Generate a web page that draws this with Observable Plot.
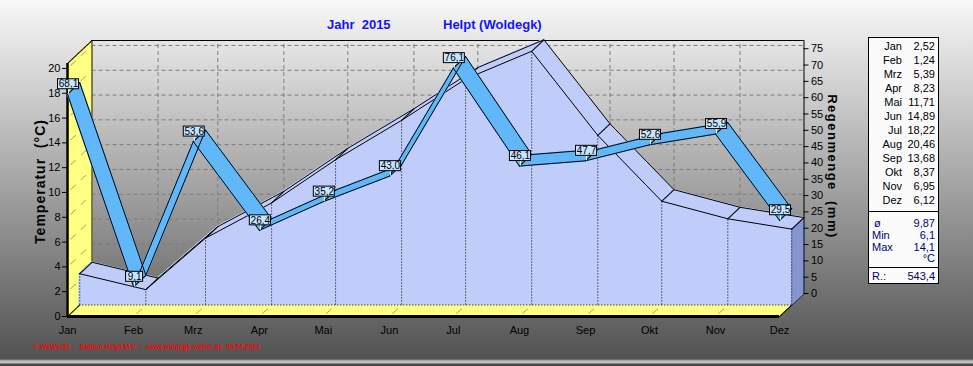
<!DOCTYPE html>
<html>
<head>
<meta charset="utf-8">
<script src="https://cdn.jsdelivr.net/npm/d3@7"></script>
<script src="https://cdn.jsdelivr.net/npm/@observablehq/plot@0.6"></script>
<style>
html,body{margin:0;padding:0;}
body{width:973px;height:366px;overflow:hidden;
  background:linear-gradient(to bottom,#f8f8f8 0px,#a6a6a6 180px,#525252 359px,#c0c0c0 361px,#c0c0c0 363px,#4a4a4a 364px);
  font-family:"Liberation Sans",Arial,sans-serif;}
#wrap{position:relative;width:973px;height:366px;}
#chart{position:absolute;left:0;top:0;}
.abs{position:absolute;white-space:pre;}
.title{font-weight:bold;font-size:13px;line-height:15px;color:#1414ff;top:17px;}
#legend{position:absolute;left:868px;top:37px;width:69px;height:245px;border:1px solid #000;background:#fbfbfb;font-size:11px;}
#legend .row{position:absolute;left:0;width:69px;height:11px;line-height:11px;}
#legend .sep{position:absolute;left:0;width:69px;height:0;border-top:1px solid #000;}
#caption{left:33px;top:343px;font-size:6.8px;line-height:8px;color:#ff0000;font-weight:bold;}
</style>
</head>
<body>
<div id="wrap">
  <div id="chart"></div>
  <div id="t1" class="abs title" style="left:327px"></div>
  <div id="t2" class="abs title" style="left:443px"></div>
  <div id="legend"></div>
  <div id="caption" class="abs"></div>
</div>
<script>
// ---------- data ----------
const months = ["Jan","Feb","Mrz","Apr","Mai","Jun","Jul","Aug","Sep","Okt","Nov","Dez"];
const temperature = [2.52,1.24,5.39,8.23,11.71,14.89,18.22,20.46,13.68,8.37,6.95,6.12];
const rain = [68.1,9.1,53.6,26.4,35.2,43.0,76.1,46.1,47.7,52.6,55.9,29.5];
const tempTicks = [0,2,4,6,8,10,12,14,16,18,20];
const rainTicks = [0,5,10,15,20,25,30,35,40,45,50,55,60,65,70,75];
const statLabels = ["ø","Min","Max",""];
const statValues = ["9,87","6,1","14,1","°C"];
const rainTotalLabel = "R.:";
const rainTotal = "543,4";
const titleYear = "Jahr  2015";
const titleStation = "Helpt (Woldegk)";
const yTitle = "Temperatur  (°C)";
const y2Title = "Regenmenge  (mm)";
const caption = "© WsWin32  -  Station Helpt M-V  -  www.woldegk-wetter.de  09.04.2022";
const YEAR = 2015;
const T_MAX = 20.4;            // top of the temperature axis
const RAIN_PER_TEMP = 76 / 20; // right axis: 76 mm at the height of 20 °C

// ---------- styling ----------
const YELLOW = "#ffff84", DASH = "#9a9a70", AREA = "#c0ccfa", SIDE = "#8696d0",
      RIBBON = "#62b8f8", LABEL_BG = "#c6e6ff", GRID = "#7c7c7c";
const DX = 24.5, DY = -23;  // 3D depth offset in pixels
const at = t => ({dx: t * DX, dy: t * DY});
const steps = (t0, t1, n) => Array.from({length: n + 1}, (_, j) => t0 + (t1 - t0) * j / n);

const data = months.map((m, i) => ({
  date: new Date(Date.UTC(YEAR, i, 1)),
  month: m,
  temp: temperature[i],
  rain: rain[i],
  r: rain[i] / RAIN_PER_TEMP,
  label: rain[i].toFixed(1).replace(".", ",")
}));
const first = data[0].date, last = data[data.length - 1].date;
const corners = [{x: first, y: T_MAX}, {x: first, y: 0}, {x: last, y: 0}];

const marks = [];
// back wall grid
marks.push(Plot.ruleY(tempTicks.filter(d => d > 0), {y: d => d, x1: () => first, x2: () => last, ...at(1), stroke: GRID, strokeDasharray: "4,3"}));
marks.push(Plot.ruleX(data.slice(1, -1), {x: "date", y1: () => 0, y2: () => T_MAX, ...at(1), stroke: GRID, strokeDasharray: "4,3"}));
// floor and left wall
for (const t of steps(0, 1, 50)) {
  marks.push(Plot.ruleY([0], {y: d => d, x1: () => first, x2: () => last, ...at(t), stroke: YELLOW, strokeWidth: 1.5}));
  marks.push(Plot.ruleX([first], {x: d => d, y1: () => 0, y2: () => T_MAX, ...at(t), stroke: YELLOW, strokeWidth: 1.5}));
}
// dashed diagonals on the walls
for (const t of [...steps(0.14, 0.32, 5), ...steps(0.56, 0.74, 5)]) {
  marks.push(Plot.dot(tempTicks.slice(1), {x: () => first, y: d => d, r: 0.55, fill: DASH, ...at(t)}));
  marks.push(Plot.dot(data.slice(1, -1), {x: "date", y: () => 0, r: 0.55, fill: DASH, ...at(t)}));
}
// wall outlines
marks.push(Plot.ruleX([first], {x: d => d, y1: () => 0, y2: () => T_MAX, ...at(1), stroke: "black"}));
marks.push(Plot.ruleY([T_MAX], {y: d => d, x1: () => first, x2: () => last, ...at(1), stroke: "black"}));
for (const t of steps(0, 1, 50)) {
  marks.push(Plot.dot(corners, {x: "x", y: "y", r: 0.55, fill: "black", ...at(t)}));
}
// temperature area (extruded from mid depth to back)
for (const t of steps(1, 0.5, 26)) {
  marks.push(Plot.areaY(data, {x: "date", y: "temp", fill: AREA, stroke: AREA, strokeWidth: 1, ...at(t)}));
}
for (const t of steps(0.5, 1, 26)) {
  marks.push(Plot.ruleX([data[data.length - 1]], {x: "date", y1: () => 0, y2: "temp", stroke: SIDE, strokeWidth: 1.3, ...at(t)}));
}
marks.push(Plot.ruleX(data, {x: "date", y1: () => 0, y2: "temp", ...at(0.5), stroke: "black", strokeDasharray: "1,2"}));
marks.push(Plot.ruleY([0], {y: d => d, x1: () => first, x2: () => last, ...at(0.5), stroke: "black", strokeDasharray: "1,2"}));
marks.push(Plot.lineY(data, {x: "date", y: "temp", stroke: "black", strokeWidth: 1, ...at(1)}));
marks.push(Plot.lineY(data, {x: "date", y: "temp", stroke: "black", strokeWidth: 1, ...at(0.5)}));
for (const t of steps(0.5, 1, 26)) {
  marks.push(Plot.dot(data, {x: "date", y: "temp", r: 0.55, fill: "black", ...at(t)}));
}
// right back edge (right axis line)
marks.push(Plot.ruleX([last], {x: d => d, y1: () => 0, y2: () => T_MAX, ...at(1), stroke: "black"}));
// front axis lines
marks.push(Plot.ruleY([0], {y: d => d, x1: () => first, x2: () => last, stroke: "black", strokeWidth: 3}));
marks.push(Plot.ruleX([first], {x: d => d, y1: () => 0, y2: () => T_MAX, stroke: "black", strokeWidth: 2.5}));
// rain ribbon
for (const t of steps(0.5, 0, 26)) {
  marks.push(Plot.lineY(data, {x: "date", y: "r", stroke: RIBBON, strokeWidth: 1.5, ...at(t)}));
}
marks.push(Plot.lineY(data, {x: "date", y: "r", stroke: "black", strokeWidth: 1, ...at(0.5)}));
marks.push(Plot.lineY(data, {x: "date", y: "r", stroke: "black", strokeWidth: 1, ...at(0)}));
for (const t of steps(0, 0.5, 26)) {
  marks.push(Plot.dot(data, {x: "date", y: "r", r: 0.55, fill: "black", ...at(t)}));
}
// value labels
marks.push(Plot.ruleX(data, {x: "date", y1: "r", y2: "r", insetTop: -6, dx: 1, stroke: "white", strokeWidth: 1}));
marks.push(Plot.rect(data.filter(d => d.label.length > 3), {x1: "date", x2: "date", y1: "r", y2: "r", insetLeft: -10.5, insetRight: -10.5, insetTop: -5, insetBottom: -5, dx: 1, dy: -10, fill: LABEL_BG, stroke: "black"}));
marks.push(Plot.rect(data.filter(d => d.label.length <= 3), {x1: "date", x2: "date", y1: "r", y2: "r", insetLeft: -8.5, insetRight: -8.5, insetTop: -5, insetBottom: -5, dx: 1, dy: -10, fill: LABEL_BG, stroke: "black"}));
marks.push(Plot.text(data, {x: "date", y: "r", text: "label", dx: 1, dy: -10, fontSize: 10, fill: "black"}));
// axes
marks.push(Plot.axisY({ticks: tempTicks, anchor: "left", tickSize: 5, tickPadding: 2, fontSize: 11, label: null, color: "black"}));
marks.push(Plot.axisX({ticks: data.map(d => d.date), tickFormat: d => months[d.getUTCMonth()], tickSize: 0, tickPadding: 10, fontSize: 11, label: null, color: "black"}));
marks.push(Plot.ruleY(rainTicks, {y: d => d / RAIN_PER_TEMP, x1: () => last, x2: () => last, insetRight: -5, ...at(1), stroke: "black"}));
marks.push(Plot.text(rainTicks, {y: d => d / RAIN_PER_TEMP, x: () => last, text: d => String(d), textAnchor: "start", dx: DX + 7, dy: DY, fontSize: 11, fill: "black"}));
marks.push(Plot.text([yTitle], {frameAnchor: "left", textAnchor: "middle", text: d => d, rotate: -90, dx: -27, dy: -8.5, fontSize: 14, fontWeight: "bold", fill: "black"}));
marks.push(Plot.text([y2Title], {frameAnchor: "right", textAnchor: "middle", text: d => d, rotate: 90, dx: 53, dy: -23.5, fontSize: 13, fontWeight: "bold", fill: "black"}));

const chart = Plot.plot({
  width: 973,
  height: 366,
  marginLeft: 67,
  marginRight: 194,
  marginTop: 63,
  marginBottom: 50,
  x: {type: "utc", domain: [first, last]},
  y: {domain: [0, T_MAX], nice: false},
  style: {background: "transparent", fontFamily: "'Liberation Sans', Arial, sans-serif", fontSize: "11px", color: "black", overflow: "visible"},
  marks
});
chart.querySelectorAll("text").forEach(t => {
  t.style.whiteSpace = "pre";
  if (t.textContent === yTitle) t.style.letterSpacing = "1px";
  if (t.textContent === y2Title) t.style.letterSpacing = "1.5px";
});
document.getElementById("chart").appendChild(chart);

// ---------- titles, legend, caption ----------
document.getElementById("t1").textContent = titleYear;
document.getElementById("t2").textContent = titleStation;
document.getElementById("caption").textContent = caption;

const legend = document.getElementById("legend");
const LEGEND_TOP = 38;  // page y of the legend's inner top
function addRow(centerY, left, right, color, leftPos) {
  const row = document.createElement("div");
  row.className = "row";
  row.style.top = (centerY - 5.5 - LEGEND_TOP) + "px";
  row.style.color = color;
  const a = document.createElement("span");
  a.textContent = left;
  a.style.position = "absolute";
  if (leftPos == null) { a.style.right = (69 - 33) + "px"; } else { a.style.left = leftPos + "px"; }
  const b = document.createElement("span");
  b.textContent = right;
  b.style.position = "absolute";
  b.style.right = "3px";
  row.appendChild(a); row.appendChild(b);
  legend.appendChild(row);
}
months.forEach((m, i) => addRow(46 + 14 * i, m, temperature[i].toFixed(2).replace(".", ","), "#000"));
function addSep(top) { const s = document.createElement("div"); s.className = "sep"; s.style.top = top + "px"; legend.appendChild(s); }
addSep(173);
const statCenters = [223, 235, 247, 258];
statLabels.forEach((l, i) => addRow(statCenters[i], l, statValues[i], "#00007a", l === "ø" ? 5 : 3));
addSep(229);
addRow(276, rainTotalLabel, rainTotal, "#00007a", 3);
</script>
</body>
</html>
